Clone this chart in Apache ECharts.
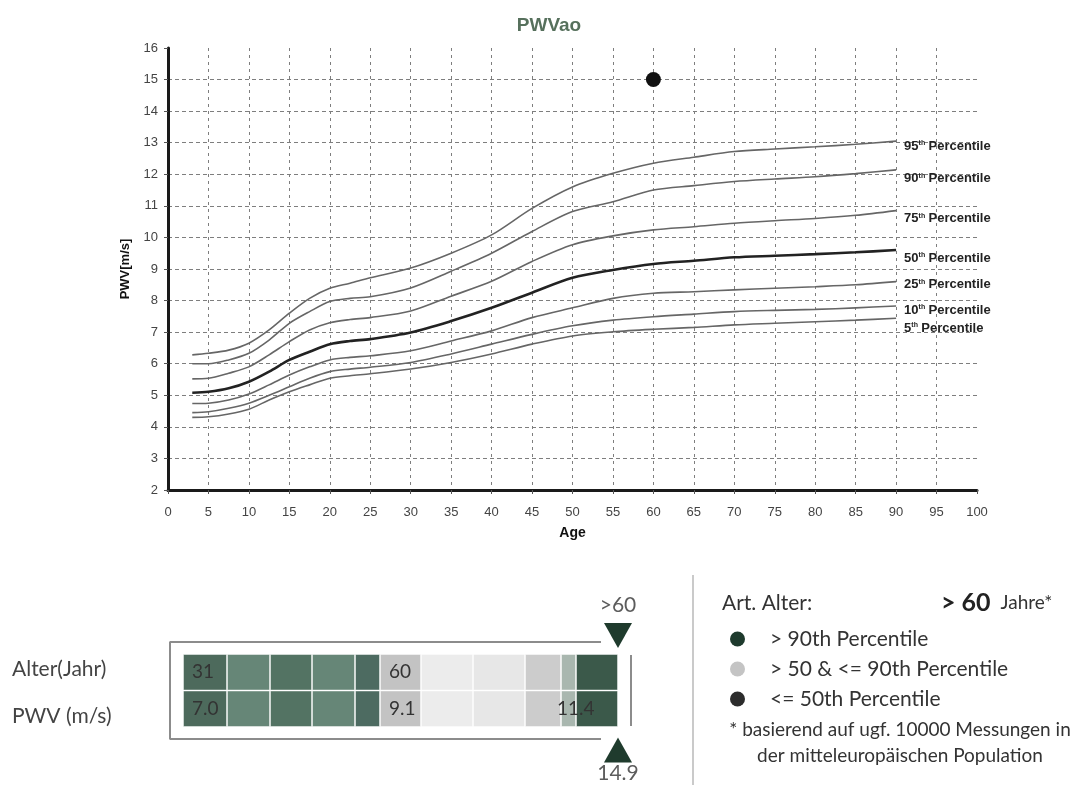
<!DOCTYPE html>
<html>
<head>
<meta charset="utf-8">
<title>PWVao</title>
<script src="https://cdn.jsdelivr.net/npm/echarts@6/dist/echarts.min.js"></script>
<style>
  html, body { margin: 0; padding: 0; background: #fff; }
  #chart { width: 1075px; height: 788px; }
</style>
</head>
<body>
<div id="chart"></div>
<script>
const ages = [3, 5, 7.5, 10, 12.5, 15, 17.5, 20, 22.5, 25, 30, 35, 40, 45, 50, 55, 60, 65, 70, 75, 80, 85, 90]
const p95 = [6.28, 6.33, 6.43, 6.65, 7.07, 7.6, 8.07, 8.39, 8.55, 8.72, 9.03, 9.5, 10.08, 10.92, 11.6, 12.03, 12.35, 12.54, 12.72, 12.8, 12.87, 12.95, 13.05]
const p90 = [6.0, 6.0, 6.12, 6.33, 6.75, 7.28, 7.65, 7.97, 8.07, 8.12, 8.4, 8.93, 9.5, 10.19, 10.82, 11.13, 11.5, 11.64, 11.77, 11.85, 11.92, 12.02, 12.14]
const p75 = [5.52, 5.54, 5.7, 5.9, 6.28, 6.7, 7.07, 7.3, 7.4, 7.46, 7.67, 8.14, 8.61, 9.24, 9.77, 10.05, 10.24, 10.34, 10.45, 10.53, 10.6, 10.7, 10.85]
const p50 = [5.08, 5.11, 5.22, 5.43, 5.75, 6.12, 6.38, 6.62, 6.72, 6.78, 6.99, 7.35, 7.77, 8.25, 8.72, 8.97, 9.16, 9.26, 9.37, 9.42, 9.47, 9.53, 9.6]
const p25 = [4.74, 4.75, 4.85, 5.04, 5.33, 5.64, 5.9, 6.12, 6.2, 6.25, 6.41, 6.72, 7.04, 7.46, 7.77, 8.07, 8.23, 8.28, 8.34, 8.39, 8.44, 8.5, 8.6]
const p10 = [4.45, 4.48, 4.59, 4.75, 5.0, 5.27, 5.54, 5.75, 5.83, 5.89, 6.04, 6.31, 6.62, 6.93, 7.2, 7.38, 7.49, 7.57, 7.65, 7.69, 7.72, 7.77, 7.83]
const p5 = [4.3, 4.32, 4.41, 4.56, 4.85, 5.11, 5.33, 5.54, 5.62, 5.68, 5.83, 6.04, 6.31, 6.62, 6.88, 7.01, 7.09, 7.15, 7.23, 7.28, 7.33, 7.38, 7.44]
const percentileNames = ['95', '90', '75', '50', '25', '10', '5']
const labelShift = [5, 9, 8, 8, 3, 4, 10]

// measured patient
const patientAge = 60
const patientPwv = 15

// bottom gauge bar
const rowNames = ['Alter(Jahr)', 'PWV (m/s)']
const segWidths = [44, 43, 42, 43, 25, 41, 52, 52, 36, 15, 42]
const segColors = ['#4d6a5c', '#668677', '#537363', '#668677', '#4d6b61', '#c3c3c3', '#ececec', '#e7e7e7', '#cccccc', '#a9b7af', '#3b594a']
const ageRow = ['31', '', '', '', '', '60', '', '', '', '', '']
const pwvRow = ['7.0', '', '', '', '', '9.1', '', '', '', '11.4', '']
const markerTexts = ['>60', '14.9']

// frame around the bar, and panel separator (overlay units = px)
const framePath = [[418, 72], [-13, 72], [-13, 169], [418, 169]]
const frameRight = [[448, 85], [448, 156]]
const separator = [[510, 5], [510, 215]]

// legend on the right
const legendNames = ['> 90th Percentile', '> 50 & <= 90th Percentile', '<= 50th Percentile']
const legendColors = ['#1e3a2d', '#c4c4c4', '#2c2c2c']

const sans = 'Liberation Sans, Arial, sans-serif'
const soft = 'Lato, "Open Sans", sans-serif'

const chart = echarts.init(document.getElementById('chart'), null, { renderer: 'canvas' })

const curves = [p95, p90, p75, p50, p25, p10, p5]
const curveSeries = curves.map((vals, i) => ({
  name: percentileNames[i] + 'th Percentile',
  type: 'line',
  xAxisIndex: 0,
  yAxisIndex: 0,
  smooth: 0.3,
  showSymbol: false,
  silent: true,
  data: ages.map((a, k) => [a, vals[k]]),
  lineStyle: {
    color: i === 3 ? '#222' : '#666',
    width: i === 3 ? 2.6 : 1.6
  },
  endLabel: {
    show: true,
    distance: 8,
    offset: [0, labelShift[i]],
    formatter: '{n|' + percentileNames[i] + '}{s|th} {n|Percentile}',
    rich: {
      n: { fontFamily: sans, fontWeight: 'bold', fontSize: 13, color: '#222' },
      s: { fontFamily: sans, fontWeight: 'bold', fontSize: 7, color: '#222', verticalAlign: 'top', padding: [0, 0, 6, 0] }
    }
  }
}))

const total = segWidths.reduce((a, b) => a + b, 0)
const barSeries = segWidths.map((w, i) => ({
  type: 'bar',
  stack: 'gauge',
  xAxisIndex: 1,
  yAxisIndex: 1,
  barCategoryGap: '0%',
  silent: true,
  itemStyle: { color: segColors[i], borderColor: 'rgba(255,255,255,0.45)', borderWidth: 1 },
  label: {
    show: true,
    position: 'insideLeft',
    offset: [i === 9 ? -9 : 4, 0],
    fontFamily: soft,
    fontSize: 19,
    color: '#333',
    formatter: p => (p.dataIndex === 0 ? ageRow[i] : pwvRow[i])
  },
  data: [w, w]
}))

const lineColor = '#8c8c8c'
const overlaySeries = [
  { type: 'line', xAxisIndex: 2, yAxisIndex: 2, data: framePath, symbol: 'none', clip: false, silent: true,
    lineStyle: { color: lineColor, width: 2 } },
  { type: 'line', xAxisIndex: 2, yAxisIndex: 2, data: frameRight, symbol: 'none', clip: false, silent: true,
    lineStyle: { color: lineColor, width: 2 } },
  { type: 'line', xAxisIndex: 2, yAxisIndex: 2, data: separator, symbol: 'none', clip: false, silent: true,
    lineStyle: { color: '#cacaca', width: 2 } },
  { type: 'scatter', xAxisIndex: 2, yAxisIndex: 2, symbol: 'triangle', symbolSize: [28, 25], silent: true,
    itemStyle: { color: '#1f3b2d', opacity: 1 },
    data: [{ value: [total, 65.5], symbolRotate: 180 }, { value: [total, 180] }] },
  { type: 'scatter', xAxisIndex: 2, yAxisIndex: 2, symbolSize: 0, silent: true,
    label: { show: true, position: 'inside', fontFamily: soft, fontSize: 21, color: '#333',
      formatter: p => markerTexts[p.dataIndex] },
    data: [[total, 35], [total, 203]] }
]

const legendSeries = legendNames.map((n, i) => ({
  name: n, type: 'scatter', xAxisIndex: 2, yAxisIndex: 2, data: [],
  itemStyle: { color: legendColors[i], opacity: 1 }
}))

chart.setOption({
  animation: false,
  title: [
    { text: 'PWVao', left: 544, top: 11, textAlign: 'center',
      textStyle: { fontFamily: sans, fontWeight: 'bold', fontSize: 19, color: '#56705c' } },
    { text: 'Art. Alter:', left: 717, top: 588,
      textStyle: { fontFamily: soft, fontWeight: 'normal', fontSize: 21, color: '#333' } },
    { text: '{b|> 60}  {c|Jahre*}', left: 936, top: 585,
      textStyle: { fontWeight: 'normal', rich: {
        b: { fontFamily: soft, fontWeight: 'bold', fontSize: 25, color: '#222' },
        c: { fontFamily: soft, fontWeight: 'normal', fontSize: 19, color: '#333' }
      } } },
    { text: '* basierend auf ugf. 10000 Messungen in\nder mitteleuropäischen Population', left: 895, top: 712, textAlign: 'center',
      textStyle: { fontFamily: soft, fontWeight: 'normal', fontSize: 19, lineHeight: 26, color: '#333' } }
  ],
  legend: {
    data: legendNames,
    orient: 'vertical',
    left: 725,
    top: 623,
    icon: 'circle',
    itemWidth: 15,
    itemHeight: 15,
    itemGap: 8,
    selectedMode: false,
    textStyle: { fontFamily: soft, fontSize: 21, lineHeight: 22, color: '#333', padding: [0, 0, 0, 20] }
  },
  grid: [
    { left: 168, right: 98, top: 48, bottom: 298 },
    { left: 183, width: 435, top: 654, height: 73 },
    { left: 0, width: 1075, top: 570, height: 218 }
  ],
  xAxis: [
    {
      gridIndex: 0, type: 'value', min: 0, max: 100, interval: 5,
      name: 'Age', nameLocation: 'middle', nameGap: 36,
      nameTextStyle: { fontFamily: sans, fontWeight: 'bold', fontSize: 14, color: '#111' },
      axisLine: { lineStyle: { color: '#1a1a1a', width: 3 } },
      axisTick: { show: true, length: 4, lineStyle: { color: '#555' } },
      axisLabel: { fontFamily: sans, fontSize: 13, color: '#444', margin: 16 },
      splitLine: { show: true, showMaxLine: false, lineStyle: { color: '#7e7e7e', width: 1, type: [3, 4] } }
    },
    { gridIndex: 1, type: 'value', min: 0, max: total, show: false },
    { gridIndex: 2, type: 'value', min: -183, max: 892, show: false }
  ],
  yAxis: [
    {
      gridIndex: 0, type: 'value', min: 2, max: 16, interval: 1,
      name: 'PWV[m/s]', nameLocation: 'middle', nameGap: 36,
      nameTextStyle: { fontFamily: sans, fontWeight: 'bold', fontSize: 13, color: '#111' },
      axisLine: { show: true, lineStyle: { color: '#1a1a1a', width: 3 } },
      axisTick: { show: true, length: 4, lineStyle: { color: '#555' } },
      axisLabel: { fontFamily: sans, fontSize: 13, color: '#444', margin: 10 },
      splitLine: { show: true, showMaxLine: false, lineStyle: { color: '#7e7e7e', width: 1, type: [4, 3] } }
    },
    {
      gridIndex: 1, type: 'category', data: rowNames, inverse: true,
      axisLine: { show: false }, axisTick: { show: false },
      axisLabel: {
        align: 'left', margin: 171,
        formatter: (v, i) => (i === 0 ? '{a|' + v + '}' : '{b|' + v + '}'),
        rich: {
          a: { fontFamily: soft, fontSize: 21, color: '#444', padding: [0, 0, 6, 0] },
          b: { fontFamily: soft, fontSize: 21, color: '#444', padding: [14, 0, 0, 0] }
        }
      }
    },
    { gridIndex: 2, type: 'value', min: 0, max: 218, inverse: true, show: false }
  ],
  series: [
    ...curveSeries,
    {
      name: 'Patient', type: 'scatter', xAxisIndex: 0, yAxisIndex: 0,
      symbolSize: 15, silent: true,
      itemStyle: { color: '#111', opacity: 1 },
      data: [[patientAge, patientPwv]]
    },
    ...barSeries,
    ...overlaySeries,
    ...legendSeries
  ]
})
</script>
</body>
</html>
